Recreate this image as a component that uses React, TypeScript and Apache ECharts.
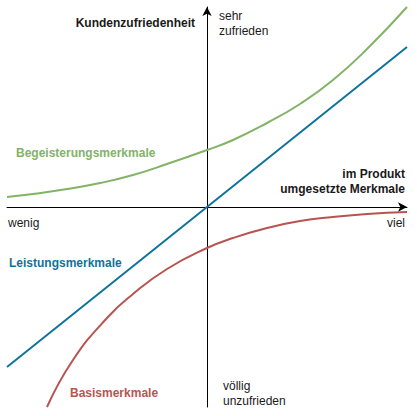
import React, { useEffect, useRef } from "react";
import * as echarts from "echarts";

const begeisterungX = [-200, -174, -140, -107, -74, -40, 0, 26, 60, 93, 126, 160, 200];
const begeisterungY = [10, 13, 18, 24, 32, 43, 57, 67, 84, 103, 127, 158, 200];

const leistungX = [-200, 200];
const leistungY = [-160, 160];

const basisX = [-160, -134, -100, -74, -40, 0, 26, 60, 93, 126, 160, 200];
const basisY = [-200, -153, -111, -87, -62, -41, -31, -21, -14, -10, -7, -5];

const pairs = (xs: number[], ys: number[]) => xs.map((x, i) => [x, ys[i]]);

const FONT = "Liberation Sans, Arial, Helvetica, sans-serif";

export default function App() {
  const ref = useRef<HTMLDivElement>(null);
  useEffect(() => {
    if (!ref.current) return;
    const chart = echarts.init(ref.current, undefined, { renderer: "svg" });
    const txt = (x: number, y: number, text: string, opts: any = {}) => ({
      type: "text",
      x,
      y,
      style: {
        text,
        fontFamily: FONT,
        fontSize: 12,
        fill: "#1a1a1a",
        lineHeight: 15,
        ...opts,
      },
    });
    const axis = {
      type: "value",
      min: -200,
      max: 200,
      axisLine: {
        onZero: true,
        symbol: ["none", "arrow"],
        symbolSize: [7, 9],
        lineStyle: { color: "#000", width: 1 },
      },
      axisTick: { show: false },
      axisLabel: { show: false },
      splitLine: { show: false },
    };
    chart.setOption({
      animation: false,
      backgroundColor: "#ffffff",
      grid: { left: 7, top: 7, width: 400, height: 400 },
      xAxis: axis,
      yAxis: axis,
      series: [
        {
          name: "Begeisterungsmerkmale",
          type: "line",
          smooth: 0.5,
          showSymbol: false,
          data: pairs(begeisterungX, begeisterungY),
          lineStyle: { color: "#82b366", width: 2 },
        },
        {
          name: "Leistungsmerkmale",
          type: "line",
          showSymbol: false,
          data: pairs(leistungX, leistungY),
          lineStyle: { color: "#10739e", width: 2 },
        },
        {
          name: "Basismerkmale",
          type: "line",
          smooth: 0.5,
          showSymbol: false,
          data: pairs(basisX, basisY),
          lineStyle: { color: "#b85450", width: 2 },
        },
      ],
      graphic: [
        txt(195, 15, "Kundenzufriedenheit", { fontWeight: "bold", align: "right" }),
        txt(219, 8, "sehr\nzufrieden"),
        txt(16, 145, "Begeisterungsmerkmale", { fontWeight: "bold", fill: "#82b366" }),
        txt(405, 166, "im Produkt\numgesetzte Merkmale", { fontWeight: "bold", align: "right" }),
        txt(8, 215, "wenig"),
        txt(405, 215, "viel", { align: "right" }),
        txt(9, 255, "Leistungsmerkmale", { fontWeight: "bold", fill: "#10739e" }),
        txt(70, 385, "Basismerkmale", { fontWeight: "bold", fill: "#b85450" }),
        txt(223, 378, "völlig\nunzufrieden"),
      ],
    });
    return () => chart.dispose();
  }, []);
  return <div ref={ref} style={{ width: 417, height: 416, position: "absolute", left: 0, top: 0 }} />;
}
